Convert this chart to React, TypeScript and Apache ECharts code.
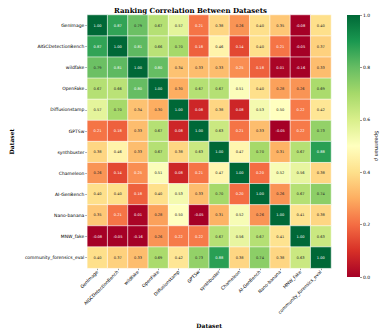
import React, { useEffect, useRef } from "react";
import * as echarts from "echarts";

const datasets = [
  "GenImage",
  "AIGCDetectionBench",
  "wildfake",
  "OpenFake",
  "Diffusionstamp",
  "GPTSw",
  "synthbuster",
  "Chameleon",
  "AI-GenBench",
  "Nano-banana",
  "MNW_fake",
  "community_forensics_eval",
];

const correlation = [
  [1.0, 0.87, 0.79, 0.67, 0.57, 0.21, 0.38, 0.26, 0.4, 0.35, -0.08, 0.4],
  [0.87, 1.0, 0.81, 0.66, 0.7, 0.18, 0.46, 0.14, 0.4, 0.21, -0.05, 0.37],
  [0.79, 0.81, 1.0, 0.8, 0.34, 0.33, 0.33, 0.25, 0.18, 0.01, -0.16, 0.33],
  [0.67, 0.66, 0.8, 1.0, 0.3, 0.67, 0.67, 0.51, 0.4, 0.28, 0.26, 0.69],
  [0.57, 0.7, 0.34, 0.3, 1.0, 0.08, 0.38, 0.08, 0.53, 0.5, 0.22, 0.42],
  [0.21, 0.18, 0.33, 0.67, 0.08, 1.0, 0.63, 0.21, 0.33, -0.05, 0.22, 0.73],
  [0.38, 0.46, 0.33, 0.67, 0.38, 0.63, 1.0, 0.47, 0.7, 0.31, 0.67, 0.88],
  [0.26, 0.14, 0.25, 0.51, 0.08, 0.21, 0.47, 1.0, 0.2, 0.52, 0.56, 0.38],
  [0.4, 0.4, 0.18, 0.4, 0.53, 0.33, 0.7, 0.2, 1.0, 0.26, 0.67, 0.74],
  [0.35, 0.21, 0.01, 0.28, 0.5, -0.05, 0.31, 0.52, 0.26, 1.0, 0.41, 0.38],
  [-0.08, -0.05, -0.16, 0.26, 0.22, 0.22, 0.67, 0.56, 0.67, 0.41, 1.0, 0.63],
  [0.4, 0.37, 0.33, 0.69, 0.42, 0.73, 0.88, 0.38, 0.74, 0.38, 0.63, 1.0],
];

const colorbarMin = 0;
const colorbarMax = 1;
const colorbarStep = 0.2;

const RDYLGN = [
  "#a50026", "#d73027", "#f46d43", "#fdae61", "#fee08b", "#ffffbf",
  "#d9ef8b", "#a6d96a", "#66bd63", "#1a9850", "#006837",
];

function hexToRgb(h: string) {
  return [1, 3, 5].map((i) => parseInt(h.slice(i, i + 2), 16));
}

function cmap(v: number) {
  const c = Math.min(1, Math.max(0, v));
  const t = c * (RDYLGN.length - 1);
  const i = Math.min(RDYLGN.length - 2, Math.floor(t));
  const f = t - i;
  const a = hexToRgb(RDYLGN[i]);
  const b = hexToRgb(RDYLGN[i + 1]);
  return a.map((x, k) => x + (b[k] - x) * f);
}

function textColor(v: number) {
  const rgb = cmap(v).map((x) => {
    const s = x / 255;
    return s <= 0.03928 ? s / 12.92 : Math.pow((s + 0.055) / 1.055, 2.4);
  });
  const lum = 0.2126 * rgb[0] + 0.7152 * rgb[1] + 0.0722 * rgb[2];
  return lum > 0.408 ? "#262626" : "#ffffff";
}

export default function App() {
  const ref = useRef<HTMLDivElement>(null);
  useEffect(() => {
    if (!ref.current) return;
    const chart = echarts.init(ref.current, undefined, { renderer: "svg" });
    const data: any[] = [];
    correlation.forEach((row, y) => {
      row.forEach((v, x) => {
        data.push({
          value: [x, y, Math.min(colorbarMax, Math.max(colorbarMin, v)), v],
          label: { color: textColor(v) },
        });
      });
    });
    const stops = RDYLGN.map((c, i) => ({ offset: i / (RDYLGN.length - 1), color: c }));
    const gx = 69, gy = 15, gs = 262;
    const cbx = 347, cbw = 13;
    chart.setOption({
      animation: false,
      backgroundColor: "#ffffff",
      title: {
        text: "Ranking Correlation Between Datasets",
        left: "center",
        top: 2,
        textStyle: { fontFamily: "DejaVu Serif", fontWeight: "bold", fontSize: 7, color: "#000" },
      },
      grid: [
        { left: gx, top: gy, width: gs, height: gs },
        { left: cbx, top: gy, width: cbw, height: gs },
      ],
      xAxis: [
        {
          type: "category",
          gridIndex: 0,
          data: datasets,
          axisLine: { show: false },
          axisTick: { show: true, alignWithLabel: true, length: 2, lineStyle: { color: "#333", width: 0.5 } },
          axisLabel: { rotate: 45, interval: 0, fontSize: 4.5, fontFamily: "DejaVu Sans", color: "#000", margin: 3 },
          splitLine: { show: false },
          name: "Dataset",
          nameLocation: "middle",
          nameGap: 49,
          nameTextStyle: { fontFamily: "DejaVu Serif", fontWeight: "bold", fontSize: 6, color: "#000" },
        },
        { type: "category", gridIndex: 1, data: [""], show: false },
      ],
      yAxis: [
        {
          type: "category",
          gridIndex: 0,
          data: datasets,
          inverse: true,
          axisLine: { show: false },
          axisTick: { show: true, alignWithLabel: true, length: 2, lineStyle: { color: "#333", width: 0.5 } },
          axisLabel: { interval: 0, fontSize: 4.5, fontFamily: "DejaVu Sans", color: "#000", margin: 3 },
          splitLine: { show: false },
          name: "Dataset",
          nameLocation: "middle",
          nameGap: 63,
          nameRotate: 90,
          nameTextStyle: { fontFamily: "DejaVu Serif", fontWeight: "bold", fontSize: 6, color: "#000" },
        },
        {
          type: "value",
          gridIndex: 1,
          position: "right",
          min: colorbarMin,
          max: colorbarMax,
          interval: colorbarStep,
          axisLine: { show: false },
          axisTick: { show: true, length: 2, lineStyle: { color: "#333", width: 0.5 } },
          axisLabel: { fontSize: 4.5, fontFamily: "DejaVu Sans", color: "#000", margin: 3, formatter: (v: number) => v.toFixed(1) },
          splitLine: { show: false },
          name: "Spearman ρ",
          nameLocation: "middle",
          nameRotate: -90,
          nameGap: 14,
          nameTextStyle: { fontFamily: "DejaVu Sans", fontSize: 5, color: "#000" },
        },
      ],
      visualMap: {
        show: false,
        min: colorbarMin,
        max: colorbarMax,
        dimension: 2,
        seriesIndex: 0,
        inRange: { color: RDYLGN },
      },
      graphic: [
        {
          type: "rect",
          shape: { x: cbx, y: gy, width: cbw, height: gs },
          style: { fill: new echarts.graphic.LinearGradient(0, 1, 0, 0, stops) },
          z: -1,
        },
      ],
      series: [
        {
          type: "heatmap",
          xAxisIndex: 0,
          yAxisIndex: 0,
          data,
          label: {
            show: true,
            fontSize: 3.6,
            fontFamily: "DejaVu Sans",
            formatter: (p: any) => p.value[3].toFixed(2),
          },
          itemStyle: { borderColor: "#ffffff", borderWidth: 0.6 },
          emphasis: { disabled: true },
        },
      ],
    });
    return () => chart.dispose();
  }, []);
  return <div ref={ref} style={{ position: "absolute", left: 0, top: 0, width: 381, height: 333 }} />;
}
